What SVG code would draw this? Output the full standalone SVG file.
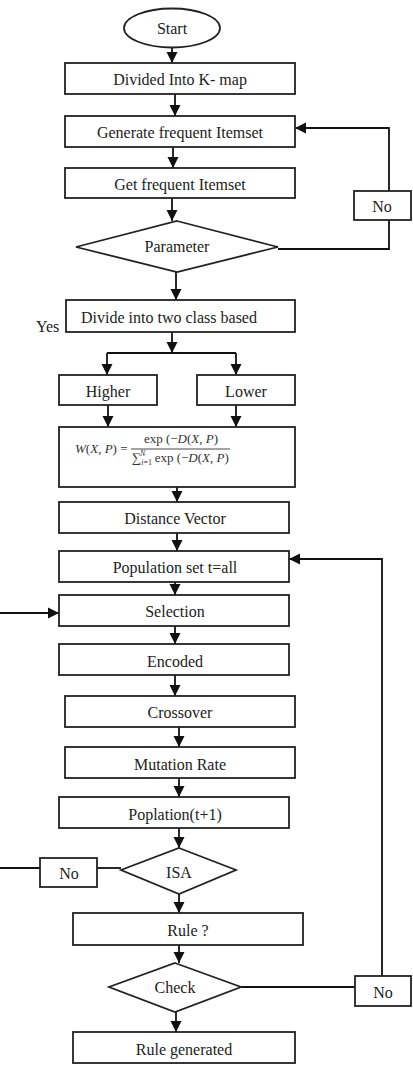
<svg xmlns="http://www.w3.org/2000/svg" width="413" height="1072" viewBox="0 0 413 1072">
<style>
.b{fill:#fff;stroke:#222;stroke-width:1.8}
.t{font-family:"Liberation Serif","Times New Roman",serif;font-size:16px;fill:#222;text-anchor:middle}
.c{fill:none;stroke:#111;stroke-width:1.8}
.a{fill:none;stroke:#111;stroke-width:1.8;marker-end:url(#ah)}
.m{font-family:"Liberation Serif","Times New Roman",serif;font-size:13px;fill:#333}
.i{font-style:italic}
</style>
<defs>
<marker id="ah" markerUnits="userSpaceOnUse" markerWidth="12" markerHeight="12" refX="11" refY="6" orient="auto">
<path d="M0,0.5 L11,6 L0,11.5 z" fill="#111"/>
</marker>
</defs>
<rect width="413" height="1072" fill="#fff"/>
<g id="connectors">
<line class="a" x1="172" y1="47" x2="172" y2="63"/>
<line class="a" x1="175" y1="94" x2="175" y2="116"/>
<line class="a" x1="173" y1="147" x2="173" y2="168"/>
<line class="a" x1="172" y1="198" x2="172" y2="221"/>
<line class="a" x1="176" y1="272" x2="176" y2="300"/>
<polyline class="c" points="278,249 389,249 389,220"/>
<polyline class="a" points="389,191 389,128 295,128"/>
<line class="a" x1="172" y1="332" x2="172" y2="353"/>
<line class="c" x1="107" y1="353" x2="236" y2="353"/>
<line class="a" x1="107" y1="353" x2="107" y2="375"/>
<line class="a" x1="236" y1="353" x2="236" y2="375"/>
<line class="a" x1="108" y1="405" x2="108" y2="427"/>
<line class="a" x1="236" y1="405" x2="236" y2="427"/>
<line class="a" x1="177" y1="487" x2="177" y2="502"/>
<line class="a" x1="177" y1="533" x2="177" y2="551"/>
<line class="a" x1="175" y1="582" x2="175" y2="595"/>
<line class="a" x1="0" y1="613" x2="59" y2="613"/>
<line class="a" x1="175" y1="626" x2="175" y2="644"/>
<line class="a" x1="175" y1="675" x2="175" y2="696"/>
<line class="a" x1="179" y1="727" x2="179" y2="747"/>
<line class="a" x1="179" y1="778" x2="179" y2="797"/>
<line class="a" x1="179" y1="828" x2="179" y2="848"/>
<line class="c" x1="121" y1="868" x2="97" y2="868"/>
<line class="c" x1="40" y1="868" x2="0" y2="868"/>
<line class="a" x1="179" y1="894" x2="179" y2="913"/>
<line class="a" x1="179" y1="945" x2="179" y2="963"/>
<line class="c" x1="241" y1="987" x2="355" y2="987"/>
<polyline class="a" points="382,976 382,559 289,559"/>
<line class="a" x1="176" y1="1012" x2="176" y2="1032"/>
</g>
<g id="start"><ellipse class="b" cx="172" cy="28" rx="48" ry="19.5"/><text class="t" x="172" y="34">Start</text></g>
<g id="kmap"><rect class="b" x="65" y="63" width="230" height="31"/><text class="t" x="180" y="85">Divided Into K- map</text></g>
<g id="generate"><rect class="b" x="65" y="116" width="230" height="31"/><text class="t" x="180" y="138">Generate frequent Itemset</text></g>
<g id="get"><rect class="b" x="65" y="168" width="230" height="30"/><text class="t" x="180" y="190">Get frequent Itemset</text></g>
<g id="no1"><rect class="b" x="354" y="191" width="57" height="29"/><text class="t" x="382" y="212">No</text></g>
<g id="parameter"><polygon class="b" points="177,221 278,247 177,272 76,247"/><text class="t" x="177" y="252">Parameter</text></g>
<g id="divide"><rect class="b" x="66" y="300" width="229" height="32"/><text class="t" x="81" y="323" style="text-anchor:start">Divide into two class based</text></g>
<g id="yes"><text class="t" x="36" y="332" style="text-anchor:start">Yes</text></g>
<g id="higher"><rect class="b" x="59" y="375" width="98" height="30"/><text class="t" x="108" y="397">Higher</text></g>
<g id="lower"><rect class="b" x="197" y="375" width="98" height="30"/><text class="t" x="246" y="397">Lower</text></g>
<g id="formula"><rect class="b" x="59" y="427" width="236" height="60"/>
<text class="m" x="75" y="453"><tspan class="i">W</tspan>(<tspan class="i">X</tspan>, <tspan class="i">P</tspan>) =</text>
<line x1="131" y1="449" x2="230" y2="449" stroke="#333" stroke-width="0.9"/>
<text class="m" x="181" y="443" style="text-anchor:middle">exp (−<tspan class="i">D</tspan>(<tspan class="i">X</tspan>, <tspan class="i">P</tspan>)</text>
<text class="m" x="132" y="462">∑<tspan font-size="8" dy="3" class="i">i</tspan><tspan font-size="8">=1</tspan><tspan font-size="8" dx="-12" dy="-9" class="i">N</tspan><tspan dx="6" dy="6"> exp (−</tspan><tspan class="i">D</tspan>(<tspan class="i">X</tspan>, <tspan class="i">P</tspan>)</text>
</g>
<g id="distance"><rect class="b" x="59" y="502" width="230" height="31"/><text class="t" x="175" y="524">Distance Vector</text></g>
<g id="population"><rect class="b" x="59" y="551" width="230" height="31"/><text class="t" x="175" y="573">Population set t=all</text></g>
<g id="selection"><rect class="b" x="59" y="595" width="230" height="31"/><text class="t" x="175" y="617">Selection</text></g>
<g id="encoded"><rect class="b" x="59" y="644" width="230" height="31"/><text class="t" x="175" y="667">Encoded</text></g>
<g id="crossover"><rect class="b" x="65" y="696" width="230" height="31"/><text class="t" x="180" y="718">Crossover</text></g>
<g id="mutation"><rect class="b" x="65" y="747" width="230" height="31"/><text class="t" x="180" y="770">Mutation Rate</text></g>
<g id="poplation"><rect class="b" x="59" y="797" width="230" height="31"/><text class="t" x="175" y="820">Poplation(t+1)</text></g>
<g id="isa"><polygon class="b" points="179,848 236,870 179,894 121,870"/><text class="t" x="179" y="878">ISA</text></g>
<g id="no2"><rect class="b" x="40" y="858" width="57" height="29"/><text class="t" x="69" y="879">No</text></g>
<g id="rule"><rect class="b" x="73" y="913" width="230" height="32"/><text class="t" x="188" y="936">Rule ?</text></g>
<g id="check"><polygon class="b" points="175,963 241,987 175,1012 109,987"/><text class="t" x="175" y="993">Check</text></g>
<g id="no3"><rect class="b" x="355" y="976" width="56" height="30"/><text class="t" x="383" y="998">No</text></g>
<g id="generated"><rect class="b" x="73" y="1032" width="222" height="31"/><text class="t" x="184" y="1055">Rule generated</text></g>
</svg>
